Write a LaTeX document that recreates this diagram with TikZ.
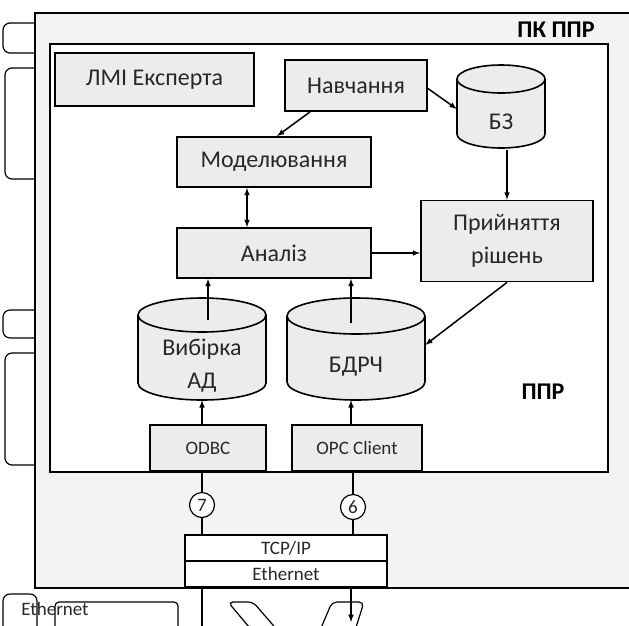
\documentclass[tikz,border=0pt]{standalone}
\usepackage{fontspec}
\setmainfont{Carlito}
\usepackage{tikz}
\usepackage{xcolor}
\usetikzlibrary{shapes,arrows,positioning,calc}
\definecolor{boxgray}{RGB}{236,236,236}
\definecolor{framegray}{RGB}{243,243,243}
\definecolor{inkgray}{RGB}{40,40,40}
\newcommand{\mainfs}{\fontsize{24}{33}\selectfont}
\newcommand{\smallfs}{\fontsize{19}{22}\selectfont}
\tikzstyle{block}=[draw,line width=1.8pt,fill=boxgray,align=center,font=\mainfs,text=inkgray,inner sep=0pt]
\tikzstyle{port}=[block,font=\smallfs]
\tikzstyle{stack}=[block,fill=white,font=\smallfs]
\tikzstyle{dbtext}=[align=center,font=\mainfs,text=inkgray,inner sep=0pt]
\tikzstyle{cyl}=[draw,line width=1.6pt,fill=boxgray]
\tikzstyle{arrow}=[draw,line width=1.5pt,-latex]
\tikzstyle{link}=[draw,line width=1.5pt]
\tikzstyle{num}=[draw,circle,line width=1.2pt,fill=white,minimum size=25pt,inner sep=0pt,font=\smallfs,text=inkgray]
\tikzstyle{frame}=[draw,line width=2pt,anchor=north west,inner sep=0pt]
\tikzstyle{edge}=[draw,line width=1.2pt,rounded corners=7pt,fill=white]
% cylinder: x, top y, x radius, y radius, bottom y
\newcommand{\dbcyl}[5]{%
  \path[cyl] (#1-#3,#2) -- (#1-#3,#5) arc[start angle=180,end angle=360,x radius=#3pt,y radius=#4pt]
    -- (#1+#3,#2) arc[start angle=0,end angle=180,x radius=#3pt,y radius=#4pt] -- cycle;
  \draw[line width=1.6pt] (#1-#3,#2) arc[start angle=180,end angle=360,x radius=#3pt,y radius=#4pt];}

\begin{document}
\begin{tikzpicture}[x=1pt,y=-1pt]
  \useasboundingbox (0,0) rectangle (629,625);
  \clip (0,0) rectangle (629,625);

  % cut off neighbours
  \path[edge] (3,23) rectangle (60,53);
  \path[edge] (5,68) rectangle (60,179);
  \path[edge] (3,310) rectangle (60,338);
  \path[edge] (5,353) rectangle (60,465);
  \path[edge] (3,594) rectangle (37,640);
  \path[edge,rounded corners=4pt] (55,602) rectangle (178,640);
  \path[edge,rounded corners=5pt] (228,602) -- (253,602) -- (286,640) -- (260,640) -- cycle;
  \path[edge,rounded corners=5pt] (332,602) -- (364,602) -- (352,640) -- (316,640) -- cycle;
  \node[font=\smallfs,text=inkgray] (ethlow) at (55,609) {Ethernet};

  \node[frame,fill=framegray,minimum width=640pt,minimum height=575pt] (pk) at (34,12) {};
  \node[frame,fill=white,minimum width=558pt,minimum height=428pt] (ppr) at (49,43) {};
  \node[font=\mainfs\bfseries] (pklabel) at (556,30) {ПК ППР};
  \node[font=\mainfs\bfseries] (pprlabel) at (543,392) {ППР};

  \dbcyl{501}{79}{44}{14}{134}
  \dbcyl{202}{315}{64}{17}{383}
  \dbcyl{356}{316}{69}{18}{382}

  \node[block,minimum width=199pt,minimum height=53pt] (lmi) at (154.5,79.5) {ЛМІ Експерта};
  \node[block,minimum width=142pt,minimum height=51pt] (navch) at (356,85.5) {Навчання};
  \node[block,minimum width=194pt,minimum height=50pt] (model) at (274,162) {Моделювання};
  \node[block,minimum width=194pt,minimum height=50pt] (anal) at (274,253) {Аналіз};
  \node[block,minimum width=172pt,minimum height=81pt] (rish) at (507,241) {Прийняття\\рішень};

  \node[dbtext,minimum width=88pt,minimum height=55pt] (bz) at (501,122) {БЗ};
  \node[dbtext,minimum width=128pt,minimum height=68pt] (vyb) at (202,366) {Вибірка\\АД};
  \node[dbtext,minimum width=138pt,minimum height=66pt] (bdrc) at (356,367) {БДРЧ};

  \node[port,minimum width=116pt,minimum height=46pt] (odbc) at (208,448) {ODBC};
  \node[port,minimum width=130pt,minimum height=46pt] (opc) at (357,448) {OPC Client};

  \node[stack,minimum width=202pt,minimum height=26pt] (tcp) at (286,548) {TCP/IP};
  \node[stack,minimum width=202pt,minimum height=26pt] (eth) at (286,574) {Ethernet};

  \node[num] (n7) at (202,505) {7};
  \node[num] (n6) at (353,507) {6};

  \draw[arrow] ([xshift=-46pt]navch.south) -- ([xshift=3pt]model.north);
  \draw[arrow] ([yshift=-3pt]navch.east) -- ([yshift=13pt]bz.west);
  \draw[arrow] (bz.south-|rish.north) -- (rish.north);
  \draw[arrow,latex-latex] ([xshift=-27pt]model.south) -- ([xshift=-27pt]anal.north);
  \draw[arrow] (anal.east) -- (rish.west|-anal.east);
  \draw[arrow] ([xshift=6pt,yshift=12pt]vyb.north) -- ([xshift=6pt]vyb.north|-anal.south);
  \draw[arrow] ([xshift=-5pt,yshift=11pt]bdrc.north) -- ([xshift=-5pt]bdrc.north|-anal.south);
  \draw[arrow] (rish.south) -- ([yshift=22pt]bdrc.east);
  \draw[arrow] (odbc.north-|vyb.south) -- (vyb.south);
  \draw[arrow] ([xshift=-6pt]opc.north) -- ([xshift=-5pt]bdrc.south);

  \draw[link] (odbc.south-|n7) -- (n7);
  \draw[link] (n7) -- (tcp.north-|n7);
  \draw[link] (opc.south-|n6) -- (n6);
  \draw[link] (n6) -- (tcp.north-|n6);

  \coordinate (down7) at (202,640);
  \coordinate (down6) at (351,622);
  \draw[link] (eth.south-|down7) -- (down7);
  \draw[arrow] (eth.south-|down6) -- (down6);
\end{tikzpicture}
\end{document}
